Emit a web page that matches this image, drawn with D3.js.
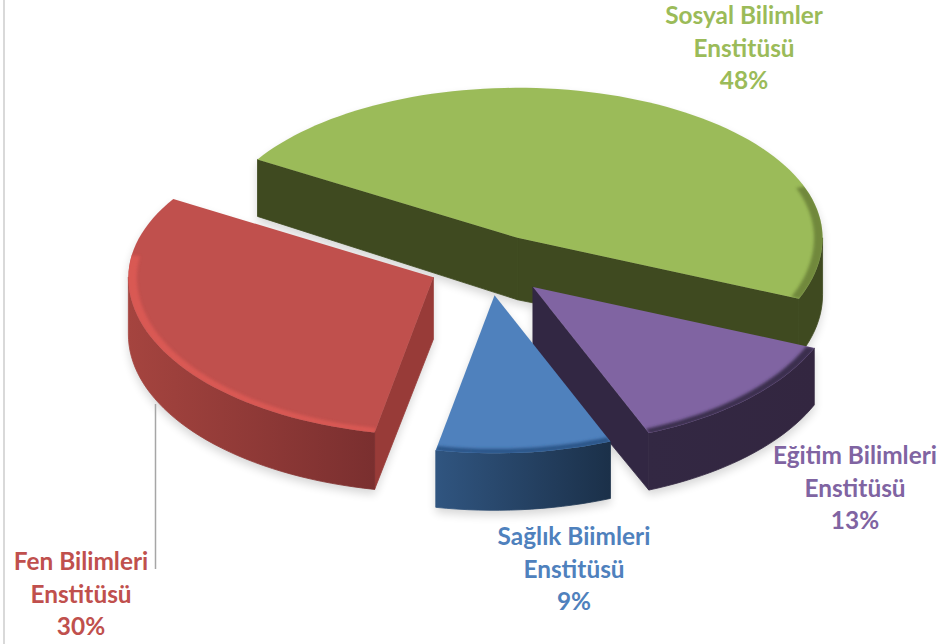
<!DOCTYPE html>
<html>
<head>
<meta charset="utf-8">
<script src="https://cdn.jsdelivr.net/npm/d3@7"></script>
<style>
  html, body { margin: 0; padding: 0; background: #fff; }
  svg { display: block; }
  text { font-family: Lato, "Open Sans", sans-serif; font-weight: 700; font-size: 24.4px; text-anchor: middle; }
</style>
</head>
<body>
<svg id="chart" width="945" height="644"></svg>
<script>
// --- Datos ---
const categories = ['Sosyal Bilimler', 'Eğitim Bilimleri', 'Sağlık Biimleri', 'Fen Bilimleri'];
const suffix = 'Enstitüsü';
const values = [48, 13, 9, 30];

// --- Estilos por porción ---
const topColors = ['#9bbb59', '#8064a2', '#4f81bd', '#c0504d'];
const wallFrom = ['#3f4a20', '#332843', '#305580', '#a5443f'];
const wallTo = ['#3f4a20', '#332640', '#1b3049', '#7a2f2f'];
const cutColors = ['#3f4a20', '#322743', '#1f3650', '#983b38'];
const rimColors = ['#4f6128', '#3a2e4e', '#2c5588', '#dc5a55'];
const rimOpacity = [0.55, 1, 1, 0.9];
const rimStart = [70, 112, 159, 192];
const rimEnd = [113, 160, 193, 278];
const labelX = [744, 855, 574, 81];
const labelY = [16, 456, 537, 562];
const drawOrder = [0, 3, 1, 2];

const cx = 490, cy = 265, rx = 305, ryBack = 150, ryFront = 158;
const explode = 62, depth = 57, squash = 0.49;
const rad = d => d * Math.PI / 180;

const svg = d3.select('#chart');
const defs = svg.append('defs');
defs.append('filter').attr('id', 'soft').attr('x', '-20%').attr('y', '-20%').attr('width', '140%').attr('height', '140%')
  .append('feGaussianBlur').attr('stdDeviation', 5);
defs.append('filter').attr('id', 'rimBlur').attr('x', '-20%').attr('y', '-20%').attr('width', '140%').attr('height', '140%')
  .append('feGaussianBlur').attr('stdDeviation', 1.6);

// Borde izquierdo
svg.append('line').attr('x1', 4).attr('x2', 4).attr('y1', 0).attr('y2', 644)
  .attr('stroke', '#d9d9d9').attr('stroke-width', 2);

const slices = d3.pie().sort(null).startAngle(rad(-60)).endAngle(rad(300))(values);
const line = d3.line().x(d => d[0]).y(d => d[1]);

// Punto del disco: ángulo en sentido horario desde arriba, f = fracción del radio
function project(s, a, f, down) {
  const mid = (s.startAngle + s.endAngle) / 2;
  // la perspectiva del original desplaza un poco el frente y la esquina izquierda
  const n = a < 0 ? a + 2 * Math.PI : a;
  const w = a - rad(2) * Math.exp(-Math.pow((n - rad(165)) / rad(30), 2))
    + rad(1.5) * Math.exp(-Math.pow((n - rad(300)) / rad(20), 2));
  const c = -Math.cos(w);
  return [
    cx + explode * Math.sin(mid) + rx * f * Math.sin(w),
    cy - explode * Math.cos(mid) * squash + f * c * (c > 0 ? ryFront : ryBack) + (down || 0)
  ];
}

function arcPoints(s, a0, a1, f, down) {
  const n = Math.max(2, Math.ceil((a1 - a0) / rad(2)));
  return d3.range(n + 1).map(i => project(s, a0 + (a1 - a0) * i / n, f, down));
}

// Caras laterales de cada porción: paredes de corte y pared exterior
function faces(s) {
  const i = s.index;
  const a0 = s.startAngle, a1 = s.endAngle;
  const apex = project(s, a0, 0);
  const apexDown = project(s, a0, 0, depth + 5);
  const out = [];

  [[a0, -1], [a1, 1]].forEach(([a, side]) => {
    const p = project(s, a, 1);
    // la normal exterior apunta hacia abajo en pantalla
    if ((p[0] - apex[0]) * side > 0) {
      out.push({ pts: [apex, p, project(s, a, 1, depth), apexDown], fill: cutColors[i] });
    }
  });

  const w0 = Math.max(a0, rad(90)), w1 = Math.min(a1, rad(270));
  if (w1 > w0) {
    const top = arcPoints(s, w0, w1, 1);
    const bottom = arcPoints(s, w0, w1, 1, depth).reverse();
    out.push({ pts: top.concat(bottom), fill: `url(#wall${i})` });
  }
  return out;
}

function topFace(s) {
  return [project(s, s.startAngle, 0)].concat(arcPoints(s, s.startAngle, s.endAngle, 1));
}

slices.forEach(s => {
  const i = s.index;
  const g = defs.append('linearGradient').attr('id', `wall${i}`);
  g.append('stop').attr('offset', '0%').attr('stop-color', wallFrom[i]);
  g.append('stop').attr('offset', '100%').attr('stop-color', wallTo[i]);
  defs.append('clipPath').attr('id', `clip${i}`)
    .append('path').attr('d', line(topFace(s)) + 'Z');
});

// --- Sombras: debajo de todo ---
const shadow = svg.append('g').attr('filter', 'url(#soft)').attr('opacity', 0.16)
  .attr('transform', 'translate(0,5)');
slices.forEach(s => {
  faces(s).forEach(f => shadow.append('path').attr('d', line(f.pts) + 'Z'));
  shadow.append('path').attr('d', line(topFace(s)) + 'Z');
});

// Línea guía de Fen Bilimleri
svg.append('line').attr('x1', 155.5).attr('x2', 155.5).attr('y1', 404).attr('y2', 569)
  .attr('stroke', '#a6a6a6').attr('stroke-width', 1.5);

// --- Porciones ---
drawOrder.forEach(i => {
  const s = slices[i];
  const g = svg.append('g').attr('class', 'slice');
  g.selectAll('path.side').data(faces(s)).enter().append('path')
    .attr('class', 'side')
    .attr('d', d => line(d.pts) + 'Z')
    .attr('fill', d => d.fill)
    .attr('stroke', d => d.fill)
    .attr('stroke-width', 0.8);
  g.append('path').attr('d', line(topFace(s)) + 'Z').attr('fill', topColors[i]);

  const b0 = Math.max(s.startAngle, rad(rimStart[i]));
  const b1 = Math.min(s.endAngle, rad(rimEnd[i]));
  const band = arcPoints(s, b0, b1, 1.005).concat(arcPoints(s, b0, b1, 0.972).reverse());
  g.append('g').attr('clip-path', `url(#clip${i})`)
    .append('path')
    .attr('d', line(band) + 'Z')
    .attr('fill', rimColors[i])
    .attr('opacity', rimOpacity[i])
    .attr('filter', 'url(#rimBlur)');
});

// --- Etiquetas ---
categories.forEach((name, i) => {
  const t = svg.append('text').attr('fill', topColors[i]);
  [name, suffix, values[i] + '%'].forEach((txt, k) => {
    t.append('tspan').attr('x', labelX[i]).attr('y', labelY[i] + 8 + k * 32.7).text(txt);
  });
});
</script>
</body>
</html>
